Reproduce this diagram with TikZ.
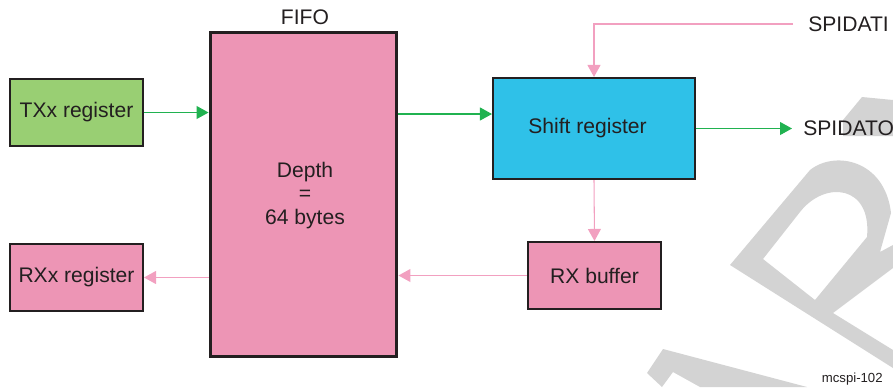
\documentclass[tikz,border=0pt]{standalone}
\usepackage{fontspec}
\setmainfont{Liberation Sans}
\usetikzlibrary{arrows.meta}
\definecolor{txgreen}{RGB}{153,207,115}
\definecolor{fifopink}{RGB}{237,149,181}
\definecolor{shiftblue}{RGB}{47,193,232}
\definecolor{arrowgreen}{RGB}{32,178,80}
\definecolor{arrowpink}{RGB}{242,160,192}
\definecolor{textdark}{RGB}{35,31,32}
\definecolor{wmgray}{RGB}{211,211,211}
\begin{document}
\begin{tikzpicture}[x=0.02cm,y=-0.02cm,
  font=\fontsize{12}{13.6}\selectfont, text=textdark,
  box/.style={draw=textdark, line width=1.2pt, minimum width=2.66cm, minimum height=1.34cm, inner sep=0pt},
  garrow/.style={draw=arrowgreen, line width=0.6pt, -{Triangle[length=0.24cm,width=0.26cm]}, arrowgreen},
  parrow/.style={draw=arrowpink, line width=0.6pt, -{Triangle[length=0.24cm,width=0.26cm]}, arrowpink}]
\useasboundingbox (0,0) rectangle (893,387);
% watermark
\fill[wmgray] (843,120) -- (862,97) -- (893,100) -- (893,136) -- (843,136) -- cycle;
\fill[wmgray, even odd rule] (730,265) -- (810,170) .. controls (835,150) and (885,160) .. (891,213)
  -- (880,252) -- (893,245) -- (893,268) -- (833,313) -- (893,350) -- (893,368) -- cycle
  (763,259) -- (800,212) .. controls (825,180) and (872,185) .. (867,237) -- (815,300) -- cycle;
\fill[wmgray] (647,373) -- (663,349) -- (807,387) -- (700,387) -- (673,372) -- (662,387) -- cycle;
% blocks
\node[box, fill=txgreen] (tx) at (76.5,112.5) {TXx register};
\node[box, fill=fifopink] (rxx) at (76.5,277.5) {RXx register};
\node[box, fill=fifopink, line width=1.7pt, minimum width=3.74cm, minimum height=6.5cm] (fifo) at (303.5,194.5) {};
\node (fifolabel) at (305,17) {FIFO};
\node[align=center] (depth) at (305,195.5) {Depth\\=\\64 bytes};
\node[box, fill=shiftblue, minimum width=4.04cm, minimum height=2.02cm] (shift) at (594,128.5) {Shift register\kern0.26cm};
\node[box, fill=fifopink] (rxbuf) at (594.5,275.5) {RX buffer};
\node[anchor=west, inner xsep=0.3cm, inner ysep=0pt] (spidati) at (793,24) {SPIDATI};
\node[anchor=west, inner xsep=0.22cm, inner ysep=0pt] (spidato) at (792,128.5) {SPIDATO};
\node[anchor=east, inner sep=0pt, font=\fontsize{7.5}{9}\selectfont] (figid) at (883,379) {mcspi-102};
% connectors
\coordinate (fifoout) at (397,114);
\draw[garrow] (tx.east) -- (tx.east -| fifo.west);
\draw[garrow] (fifoout -| fifo.east) -- (fifoout -| shift.west);
\draw[garrow] (shift.east) -- (spidato.west);
\draw[parrow] (spidati.west) -- (spidati.west -| shift.north) -- (shift.north);
\draw[parrow] (shift.south) -- (rxbuf.north);
\draw[parrow] (rxbuf.west) -- (rxbuf.west -| fifo.east);
\draw[parrow] (rxx.east -| fifo.west) -- (rxx.east);
\end{tikzpicture}
\end{document}
